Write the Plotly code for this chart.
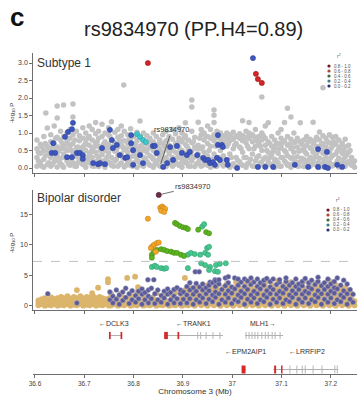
import plotly.graph_objects as go

W, H = 361, 402

# ---------------- data ----------------
panel_label = "c"
title_text = "rs9834970 (PP.H4=0.89)"
lead_snp = "rs9834970"
lead_pos = 36.851
lead_sub = 0.12
lead_bd = 18.2
ld_bins = ["0.8 - 1.0", "0.6 - 0.8", "0.4 - 0.6", "0.2 - 0.4", "0.0 - 0.2"]
ld_legend_colors = ["#6a1a22", "#b0452c", "#3f6b35", "#3a8080", "#2c2f78"]
x_ticks = [36.6, 36.7, 36.8, 36.9, 37.0, 37.1, 37.2]
x_tick_labels = ["36.6", "36.7", "36.8", "36.9", "37", "37.1", "37.2"]
sub_ticks = [0, 0.5, 1.0, 1.5, 2.0, 2.5, 3.0]
bd_ticks = [0, 5, 10, 15]
gw_threshold = 7.3

# Subtype 1 panel: gray (no LD) cloud, columns of (position, [-log10 P ...])
sub_gray_cols = [
    (36.604, [0.05, 0.3, 0.55, 0.8]), (36.611, [0.15, 0.42, 0.68]),
    (36.618, [0.02, 0.25, 0.5, 0.9]), (36.622, [1.57]),
    (36.625, [0.1, 0.38, 0.62, 1.14]), (36.632, [0.05, 0.3, 0.75, 0.95]),
    (36.639, [0.18, 0.48, 0.7, 1.2]), (36.645, [0.03, 0.35, 0.6, 0.88, 1.43, 1.77]),
    (36.652, [0.12, 0.28, 0.55, 0.8, 1.05]), (36.658, [0.02, 0.4, 0.65, 0.9, 1.8]),
    (36.665, [0.2, 0.5, 0.75, 1.0]), (36.671, [0.08, 0.3, 0.62, 0.85, 1.1]),
    (36.677, [0.15, 0.45, 0.7, 0.95, 1.46, 1.83]), (36.684, [0.05, 0.32, 0.58, 1.05]),
    (36.690, [0.2, 0.42, 0.78, 0.92]), (36.697, [0.1, 0.35, 0.6, 0.85, 1.15]),
    (36.703, [0.02, 0.25, 0.5, 0.72, 1.0]), (36.710, [0.15, 0.4, 0.65, 0.9, 1.2]),
    (36.716, [0.06, 0.3, 0.55, 0.8, 1.1]), (36.723, [0.18, 0.45, 0.7, 0.98, 1.3]),
    (36.729, [0.04, 0.28, 0.62, 0.85, 1.05]), (36.736, [0.12, 0.38, 0.6, 0.9, 1.25]),
    (36.742, [0.02, 0.22, 0.5, 0.75, 1.0]), (36.749, [0.15, 0.42, 0.68, 0.95, 1.15]),
    (36.755, [0.08, 0.3, 0.55, 0.8, 1.32]), (36.762, [0.2, 0.48, 0.72, 1.02]),
    (36.768, [0.05, 0.35, 0.6, 0.88, 1.1]), (36.775, [0.14, 0.4, 0.65, 0.92, 1.2]),
    (36.780, [2.37]), (36.781, [0.03, 0.28, 0.52, 0.78, 1.05]),
    (36.788, [0.18, 0.45, 0.7, 0.95]), (36.794, [0.07, 0.32, 0.6, 0.85, 1.12]),
    (36.801, [0.15, 0.4, 0.65, 0.9]), (36.807, [0.02, 0.25, 0.55, 0.78, 1.02]),
    (36.813, [1.34]), (36.814, [0.12, 0.38, 0.62, 0.88]),
    (36.820, [0.05, 0.3, 0.5, 0.8, 1.0]), (36.827, [0.18, 0.45, 0.7, 0.92]),
    (36.833, [0.08, 0.35, 0.58, 0.85]), (36.840, [0.02, 0.25, 0.5, 0.75, 1.0]),
    (36.846, [0.15, 0.4, 0.65, 0.9]), (36.853, [0.06, 0.32, 0.55, 0.8]),
    (36.859, [0.2, 0.45, 0.7, 0.95]), (36.866, [0.04, 0.28, 0.52, 0.78, 1.05]),
    (36.872, [0.12, 0.4, 0.65, 0.9]), (36.879, [0.05, 0.3, 0.58, 0.82, 1.1]),
    (36.885, [0.18, 0.45, 0.7, 0.98]), (36.892, [0.08, 0.35, 0.6, 0.85, 1.15]),
    (36.898, [0.02, 0.25, 0.5, 0.75, 1.0]), (36.905, [0.15, 0.42, 0.68, 0.92, 1.29]),
    (36.911, [0.06, 0.3, 0.55, 0.8]), (36.918, [0.2, 0.48, 0.72, 1.05, 1.74, 1.94]),
    (36.924, [0.04, 0.32, 0.6, 0.88]), (36.931, [0.15, 0.4, 0.65, 1.31]),
    (36.937, [0.05, 0.28, 0.55, 0.95, 1.1]), (36.943, [0.18, 0.45, 0.8, 1.0]),
    (36.950, [0.08, 0.35, 0.7, 0.9, 1.2]), (36.956, [0.02, 0.25, 0.62, 0.85, 1.1]),
    (36.963, [0.12, 0.4, 0.78, 0.95, 1.3, 1.51, 1.66]), (36.969, [0.05, 0.3, 0.7, 0.88, 1.05]),
    (36.976, [0.18, 0.5, 0.82, 1.0]), (36.982, [0.06, 0.35, 0.75, 0.92]),
    (36.989, [0.15, 0.62, 0.85, 1.0]), (36.995, [0.02, 0.4, 0.78, 0.95]),
    (37.002, [0.12, 0.55, 0.82, 1.02]), (37.008, [0.05, 0.3, 0.7, 0.9]),
    (37.015, [0.18, 0.6, 0.85, 0.98]), (37.021, [0.08, 0.45, 0.78, 0.92, 1.35]),
    (37.028, [0.02, 0.3, 0.72, 0.88, 1.05]), (37.034, [0.15, 0.55, 0.85, 1.0, 1.3]),
    (37.041, [0.06, 0.4, 0.75, 0.95]), (37.047, [0.2, 0.62, 0.88, 1.1]),
    (37.054, [0.04, 0.35, 0.7, 0.9]), (37.060, [0.12, 0.5, 0.8, 1.0, 2.03]),
    (37.067, [0.05, 0.3, 0.65, 0.85, 1.2]), (37.073, [0.18, 0.45, 0.75, 1.29]),
    (37.080, [0.08, 0.38, 0.62, 0.9]), (37.086, [0.02, 0.25, 0.55, 0.8]),
    (37.093, [0.15, 0.42, 0.7, 1.0]), (37.099, [0.05, 0.3, 0.6, 0.85, 1.1]),
    (37.106, [0.2, 0.5, 0.78, 1.3]), (37.112, [0.08, 0.35, 0.65, 0.9, 1.71]),
    (37.119, [0.02, 0.28, 0.55, 0.82, 1.46]), (37.125, [0.15, 0.45, 0.72, 1.0]),
    (37.132, [0.06, 0.32, 0.6, 0.85]), (37.138, [0.18, 0.5, 0.75, 1.29]),
    (37.145, [0.04, 0.25, 0.55, 0.8]), (37.151, [0.12, 0.4, 0.65, 0.9]),
    (37.158, [0.05, 0.3, 0.58, 0.82]), (37.164, [0.2, 0.45, 0.7, 1.31]),
    (37.171, [0.08, 0.35, 0.62, 0.88]), (37.177, [0.02, 0.28, 0.55, 0.8, 1.03]),
    (37.184, [0.15, 0.42, 0.7, 0.92, 2.29]), (37.190, [0.05, 0.3, 0.6, 0.85]),
    (37.197, [0.18, 0.45, 0.72, 0.95]), (37.203, [0.06, 0.35, 0.62, 0.88]),
    (37.210, [0.12, 0.4, 0.68, 0.9]), (37.216, [0.03, 0.28, 0.55, 0.8]),
    (37.223, [0.15, 0.42, 0.7]), (37.229, [0.05, 0.32, 0.6, 0.82]),
    (37.236, [0.18, 0.45, 0.65]), (37.242, [0.08, 0.3]), (37.248, [0.02, 0.2]),
]
# Subtype 1 panel: extra gray points filling the dense lower cloud
sub_gray_fill_cols = [
    (36.607, [0.2, 0.45]), (36.614, [0.05, 0.6]), (36.621, [0.35, 0.7]), (36.628, [0.15, 0.5]),
    (36.635, [0.1, 0.58]), (36.642, [0.3, 0.85]), (36.648, [0.2, 0.48]), (36.655, [0.08, 0.7]),
    (36.661, [0.3, 0.55]), (36.668, [0.12, 0.68]), (36.674, [0.25, 0.5]), (36.681, [0.05, 0.8]),
    (36.687, [0.15, 0.6]), (36.694, [0.28, 0.52]), (36.700, [0.12, 0.65]), (36.707, [0.3, 0.85]),
    (36.713, [0.18, 0.45]), (36.720, [0.05, 0.6]), (36.726, [0.35, 0.75]), (36.733, [0.2, 0.5]),
    (36.739, [0.1, 0.68]), (36.746, [0.3, 0.58]), (36.752, [0.15, 0.9]), (36.759, [0.05, 0.62]),
    (36.765, [0.25, 0.5]), (36.772, [0.1, 0.78]), (36.778, [0.3, 0.6]), (36.785, [0.08, 0.55]),
    (36.791, [0.2, 0.82]), (36.798, [0.05, 0.5]), (36.804, [0.32, 0.7]), (36.811, [0.18, 0.48]),
    (36.817, [0.08, 0.65]), (36.824, [0.28, 0.55]), (36.830, [0.12, 0.75]), (36.837, [0.3, 0.62]),
    (36.843, [0.1, 0.48]), (36.850, [0.22, 0.68]), (36.856, [0.05, 0.45]), (36.863, [0.3, 0.62]),
    (36.869, [0.15, 0.8]), (36.876, [0.22, 0.5]), (36.882, [0.1, 0.6]), (36.889, [0.3, 0.72]),
    (36.895, [0.12, 0.5]), (36.902, [0.28, 0.85]), (36.908, [0.15, 0.62]), (36.915, [0.05, 0.4]),
    (36.921, [0.3, 0.75]), (36.928, [0.12, 0.55]), (36.934, [0.25, 0.85]), (36.940, [0.08, 0.6]),
    (36.947, [0.3, 0.9]), (36.953, [0.12, 0.5]), (36.960, [0.25, 0.88]), (36.966, [0.05, 0.62]),
    (36.973, [0.3, 0.95]), (36.979, [0.12, 0.6]), (36.986, [0.25, 0.9]), (36.992, [0.1, 0.7]),
    (36.998, [0.3, 0.88]), (37.005, [0.05, 0.65]), (37.011, [0.22, 0.92]), (37.018, [0.1, 0.55]),
    (37.024, [0.3, 0.85]), (37.031, [0.12, 0.62]), (37.037, [0.25, 0.9]), (37.044, [0.05, 0.55]),
    (37.050, [0.3, 0.78]), (37.057, [0.15, 0.62]), (37.063, [0.25, 0.92]), (37.070, [0.08, 0.5]),
    (37.076, [0.3, 0.7]), (37.083, [0.12, 0.48]), (37.089, [0.22, 0.68]), (37.096, [0.05, 0.55]),
    (37.102, [0.3, 0.72]), (37.109, [0.15, 0.45]), (37.115, [0.1, 0.68]), (37.122, [0.3, 0.58]),
    (37.128, [0.18, 0.75]), (37.135, [0.05, 0.48]), (37.141, [0.28, 0.68]), (37.148, [0.12, 0.45]),
    (37.154, [0.22, 0.75]), (37.161, [0.1, 0.55]), (37.167, [0.3, 0.78]), (37.174, [0.15, 0.48]),
    (37.180, [0.08, 0.65]), (37.187, [0.25, 0.52]), (37.193, [0.12, 0.75]), (37.200, [0.3, 0.55]),
    (37.206, [0.1, 0.75]), (37.213, [0.2, 0.48]), (37.219, [0.05, 0.6]), (37.226, [0.25, 0.5]),
    (37.232, [0.12, 0.38]), (37.239, [0.2, 0.5]), (37.245, [0.1]),
]

# Subtype 1 panel: r2 0.0-0.2 (blue)
sub_blue_x = [36.637, 36.634, 36.641, 36.665, 36.675, 36.685, 36.691, 36.697, 36.697,
              36.667, 36.675, 36.677, 36.661, 36.718, 36.728, 36.732, 36.742, 36.736,
              36.752, 36.756, 36.758, 36.766, 36.772, 36.783, 36.787, 36.795, 36.795,
              36.799, 36.799, 36.813, 36.819, 36.839, 36.843, 36.847, 36.860, 36.868,
              36.874, 36.880, 36.888, 36.898, 36.908, 36.914, 36.929, 36.941, 36.945,
              36.951, 36.955, 36.961, 36.965, 36.969, 36.975, 36.971, 36.971, 36.979,
              36.981, 36.989, 36.991, 37.010, 37.052, 37.067, 37.083, 37.127, 37.154,
              37.174, 37.192, 37.174, 37.188, 37.194, 37.213, 37.223, 37.042]
sub_blue_y = [0.71, 0.43, 0.43, 0.31, 0.31, 0.43, 0.43, 0.37, 0.26,
              1.03, 1.11, 1.29, 0.89, 0.14, 0.11, 0.14, 0.11, 0.57,
              1.09, 0.80, 0.57, 0.66, 0.37, 0.29, 0.31, 0.71, 0.94,
              0.51, 0.09, 0.37, 0.14, 0.63, 0.63, 0.43, 0.03, 0.14,
              0.60, 0.23, 0.63, 0.43, 0.37, 0.46, 0.37, 0.29, 0.23,
              0.23, 0.14, 0.17, 0.09, 0.29, 0.23, 0.94, 0.66, 0.66,
              0.60, 0.23, 0.09, 0.00, 0.03, 0.03, 0.03, 0.09, 0.03,
              0.54, 0.46, 0.03, 0.03, 0.00, 0.09, 0.03, 3.14]
# r2 0.2-0.4 (cyan)
sub_cyan_x = [36.807, 36.813, 36.819, 36.825]
sub_cyan_y = [0.97, 0.89, 0.80, 0.74]
# r2 0.8-1.0 (red)
sub_red_x = [36.829, 37.048, 37.052, 37.060]
sub_red_y = [3.00, 2.69, 2.54, 2.43]

# Bipolar disorder panel: tan cloud
bd_tan_cols = [
    (36.607, [0.1, 0.5, 0.9]), (36.614, [0.3, 0.7, 1.1]), (36.620, [0.05, 0.45, 0.85, 1.3]),
    (36.627, [0.2, 0.6, 1.0]), (36.633, [0.1, 0.5, 0.9, 1.4]), (36.640, [0.3, 0.75, 1.15]),
    (36.646, [0.05, 0.45, 0.85, 1.3]), (36.653, [0.2, 0.6, 1.0, 1.5]), (36.659, [0.1, 0.5, 0.9, 1.3]),
    (36.666, [0.3, 0.7, 1.1, 1.6]), (36.672, [0.05, 0.45, 0.85, 1.25]), (36.679, [0.2, 0.6, 1.0, 1.5]),
    (36.685, [0.1, 0.5, 0.9, 1.3, 2.6]), (36.692, [0.3, 0.7, 1.1, 1.6]), (36.698, [0.05, 0.45, 0.85, 1.3]),
    (36.705, [0.2, 0.6, 1.0, 1.5]), (36.711, [0.1, 0.5, 0.9, 1.35]), (36.716, [2.1]),
    (36.718, [0.3, 0.7, 1.1, 1.6]), (36.724, [0.05, 0.45, 0.85, 1.3]), (36.728, [3.0]),
    (36.731, [0.2, 0.6, 1.0, 1.5]), (36.737, [0.1, 0.5, 0.9, 1.3]), (36.744, [0.3, 0.7, 1.1]),
    (36.748, [4.4, 3.9]), (36.750, [0.05, 0.45, 0.85, 1.25]), (36.755, [0.1, 0.6, 1.9]),
    (36.761, [0.3, 0.9]), (36.768, [0.05, 0.5, 1.2]), (36.774, [0.2, 0.8, 2.0]),
    (36.781, [0.1, 0.6, 1.3]), (36.787, [0.3, 0.9, 4.6]), (36.794, [0.05, 0.5, 1.6]),
    (36.800, [0.2, 0.8, 1.5]), (36.803, [4.8]), (36.807, [0.1, 0.6, 2.1]),
    (36.809, [3.1, 2.5]), (36.813, [0.3, 0.9]), (36.820, [0.05, 0.5, 1.2]),
    (36.826, [0.2, 0.8, 1.8]), (36.833, [0.1, 0.6]), (36.839, [0.3, 0.9, 1.4]),
    (36.846, [0.05, 0.5, 2.1]), (36.852, [0.2, 0.8]), (36.859, [0.1, 0.6, 1.3]),
    (36.865, [0.3, 0.9, 2.0]), (36.872, [0.05, 0.5]), (36.878, [0.2, 0.8, 1.5]),
    (36.885, [0.1, 0.6, 2.2]), (36.891, [0.3, 0.9]), (36.898, [0.05, 0.5, 1.4]),
    (36.904, [0.2, 0.8, 1.7, 2.6, 4.6]), (36.911, [0.1, 0.6, 1.5, 2.5]),
    (36.917, [0.3, 1.0, 1.9, 2.9]), (36.924, [0.05, 0.7, 1.6, 2.5]),
    (36.930, [0.4, 1.1, 2.0, 3.0]), (36.937, [0.1, 0.8, 1.7, 2.6]),
    (36.943, [0.3, 1.0, 1.9, 2.8]), (36.950, [0.05, 0.6, 1.5, 2.5, 3.4]),
    (36.956, [0.4, 1.1, 2.0, 2.9]), (36.963, [0.1, 0.8, 1.7, 2.6]),
    (36.969, [0.3, 1.0, 1.9, 2.8, 3.7]), (36.976, [0.05, 0.6, 1.5, 2.4]),
    (36.982, [0.4, 1.1, 2.0, 3.0]), (36.989, [0.1, 0.8, 1.7, 2.6, 3.6]),
    (36.995, [0.3, 1.0, 1.9, 2.9]), (37.002, [0.05, 0.6, 1.5, 2.5]),
    (37.008, [0.4, 1.1, 2.0, 3.0, 3.9]), (37.015, [0.1, 0.8, 1.7, 2.7]),
    (37.021, [0.3, 1.0, 1.9, 2.9]), (37.028, [0.05, 0.7, 1.6, 2.5, 3.5]),
    (37.034, [0.4, 1.2, 2.1, 3.1]), (37.041, [0.1, 0.8, 1.7, 2.6, 4.0]),
    (37.047, [0.3, 1.0, 1.9, 2.9]), (37.054, [0.05, 0.6, 1.5, 2.4, 3.4]),
    (37.060, [0.4, 1.1, 2.0, 3.0]), (37.067, [0.1, 0.8, 1.7, 2.7, 3.8]),
    (37.073, [0.3, 1.0, 1.9, 2.9]), (37.080, [0.05, 0.6, 1.5, 2.5, 3.5]),
    (37.086, [0.4, 1.1, 2.0, 3.0]), (37.093, [0.1, 0.8, 1.7, 2.6, 4.1]),
    (37.099, [0.3, 1.0, 1.9, 2.9]), (37.106, [0.05, 0.6, 1.5, 2.4, 3.4]),
    (37.112, [0.4, 1.1, 2.0, 3.0]), (37.119, [0.1, 0.8, 1.7, 2.7, 3.9]),
    (37.125, [0.3, 1.0, 1.9, 2.9]), (37.132, [0.05, 0.6, 1.5, 2.5, 3.5]),
    (37.138, [0.4, 1.1, 2.0, 3.0]), (37.145, [0.1, 0.8, 1.7, 2.6, 4.0]),
    (37.151, [0.3, 1.0, 1.9, 2.9]), (37.158, [0.05, 0.6, 1.5, 2.4, 3.4]),
    (37.164, [0.4, 1.1, 2.0, 3.0]), (37.171, [0.1, 0.8, 1.7, 2.7, 3.8]),
    (37.177, [0.3, 1.0, 1.9, 2.9]), (37.184, [0.05, 0.6, 1.5, 2.5, 3.5]),
    (37.190, [0.4, 1.1, 2.0, 3.0]), (37.197, [0.1, 0.8, 1.7, 2.6, 4.1]),
    (37.203, [0.3, 1.0, 1.9, 2.9]), (37.210, [0.05, 0.6, 1.5, 2.4, 3.4]),
    (37.216, [0.4, 1.1, 2.0, 3.0]), (37.223, [0.1, 0.8, 1.7, 2.7]),
    (37.229, [0.3, 1.0, 1.9, 2.9]), (37.236, [0.05, 0.6, 1.5, 2.5]),
    (37.242, [0.4, 1.1, 2.0]), (37.248, [0.1, 0.8]),
]

# Bipolar disorder panel: r2 0.0-0.2 (navy)
bd_navy_cols = [
    (36.626, [2.0]), (36.685, [0.5]), (36.829, [4.3]), (36.841, [4.3]),
    (36.925, [5.6]), (36.933, [5.6]), (36.955, [3.9]), (36.965, [4.3]),
    (36.752, [1.0, 2.3]), (36.758, [0.5, 1.6]), (36.765, [1.1, 2.6]), (36.771, [0.3, 1.8]),
    (36.778, [0.9, 2.3]), (36.784, [1.4, 2.9]), (36.791, [0.4, 2.0]), (36.797, [1.0, 2.5]),
    (36.804, [0.6, 1.7]), (36.810, [1.2, 2.4]), (36.817, [0.3, 1.9, 2.8]), (36.823, [1.0, 2.2]),
    (36.830, [0.5, 1.6, 2.6]), (36.836, [1.2, 2.9]), (36.843, [0.4, 2.0]), (36.849, [1.0, 2.6]),
    (36.856, [0.6, 1.7]), (36.862, [1.3, 2.4]), (36.869, [0.3, 1.9, 2.8]), (36.875, [1.0, 2.2]),
    (36.882, [0.5, 1.6, 2.7]), (36.888, [1.2, 3.0]), (36.895, [0.4, 2.0, 2.6]),
    (36.901, [1.1, 2.3]), (36.908, [0.5, 1.8, 3.2]), (36.914, [1.2, 2.6, 3.8]),
    (36.921, [0.3, 1.9, 3.0]), (36.927, [1.0, 2.4, 3.7]), (36.934, [0.6, 1.7, 3.1]),
    (36.940, [1.3, 2.6, 3.6]), (36.947, [0.4, 2.0, 3.0]), (36.953, [1.1, 2.5, 3.4]),
    (36.960, [0.7, 1.8, 3.8]), (36.966, [1.4, 2.3, 3.2, 4.1]), (36.973, [0.3, 2.0, 3.6, 4.3]),
    (36.979, [1.0, 2.7]), (36.986, [0.6, 1.9, 3.3, 4.6]), (36.992, [1.3, 2.5, 3.8, 4.8]),
    (36.999, [0.4, 2.1, 3.1]), (37.005, [1.0, 2.8, 4.6]), (37.012, [0.7, 1.8, 3.4, 4.4]),
    (37.018, [1.4, 2.4, 3.9]), (37.025, [0.3, 2.0, 3.2, 4.4]), (37.031, [1.1, 2.7, 4.1]),
    (37.038, [0.6, 1.8, 3.5, 4.6]), (37.044, [1.3, 2.4, 3.9]), (37.051, [0.4, 2.0, 3.2, 4.4]),
    (37.057, [1.0, 2.8, 3.8]), (37.064, [0.7, 1.8, 3.4, 4.2]), (37.070, [1.4, 2.5, 4.5]),
    (37.077, [0.3, 2.0, 3.1, 4.0]), (37.083, [1.1, 2.7, 4.4]), (37.090, [0.6, 1.9, 3.5]),
    (37.096, [1.3, 2.4, 3.9, 4.3]), (37.103, [0.4, 2.1, 3.2]), (37.109, [1.0, 2.8, 4.0, 4.6]),
    (37.116, [0.7, 1.8, 3.4]), (37.122, [1.4, 2.5, 3.8]), (37.129, [0.3, 2.0, 3.2, 4.4]),
    (37.135, [1.1, 2.7, 3.6]), (37.142, [0.6, 1.9, 3.3, 4.0]), (37.148, [1.3, 2.4, 4.5]),
    (37.155, [0.4, 2.1, 3.1, 3.8]), (37.161, [1.0, 2.8, 4.2]), (37.168, [0.7, 1.8, 3.5]),
    (37.174, [1.4, 2.5, 4.0, 4.7]), (37.181, [0.3, 2.0, 3.3]), (37.187, [1.1, 2.7, 3.8]),
    (37.194, [0.6, 1.9, 3.2, 4.4]), (37.200, [1.3, 2.4, 3.6]), (37.207, [0.4, 2.1, 3.0, 4.0]),
    (37.213, [1.0, 2.8, 4.6]), (37.220, [0.7, 1.8, 3.4]), (37.226, [1.4, 2.5, 4.2]),
    (37.233, [0.3, 2.0, 3.6]), (37.239, [1.1, 2.7]), (37.245, [0.6, 1.9]),
]
# r2 0.2-0.4 (teal green)
bd_teal_x = [36.837, 36.843, 36.847, 36.856, 36.862, 36.866,
             36.910, 36.916, 36.924, 36.935, 36.945, 36.951, 36.949, 36.953,
             36.910, 36.937, 36.945, 36.955, 36.967, 36.975, 36.987, 36.953, 36.965, 36.971,
             36.939, 36.943]
bd_teal_y = [6.4, 6.6, 6.4, 6.2, 6.1, 6.2,
             8.4, 8.7, 8.5, 8.4, 8.7, 8.4, 9.5, 9.7,
             6.2, 7.0, 6.7, 6.4, 6.7, 6.9, 7.0, 5.9, 5.7, 5.6,
             13.0, 13.4]
# r2 0.4-0.6 (green)
bd_green_x = [36.884, 36.888, 36.894, 36.900, 36.906, 36.910, 36.931, 36.947, 36.953,
              36.837, 36.841, 36.847, 36.856, 36.862, 36.868, 36.876, 36.882, 36.888,
              36.896, 36.902, 36.837]
bd_green_y = [13.6, 13.4, 13.1, 12.9, 12.8, 12.6, 12.5, 12.1, 11.9,
              8.4, 8.9, 9.2, 9.3, 9.2, 9.0, 8.9, 8.7, 8.7,
              8.4, 8.2, 7.9]
# r2 0.6-0.8 (orange)
bd_orange_x = [36.829, 36.854, 36.858, 36.860, 36.864, 36.856, 36.862,
               36.837, 36.841, 36.847, 36.851, 36.835, 36.845]
bd_orange_y = [14.3, 16.1, 16.3, 16.1, 15.9, 15.6, 15.4,
               9.7, 10.0, 10.3, 10.4, 9.5, 8.9]

# Gene track
gene_names = ["←DCLK3", "←TRANK1", "MLH1→", "←EPM2AIP1", "←LRRFIP2"]
gene_start = [36.750, 36.862, 37.026, 37.019, 37.083]
gene_end = [36.777, 36.981, 37.103, 37.028, 37.215]
gene_row = [1, 1, 1, 2, 2]
gene_label_x = [36.760, 36.922, 37.063, 37.026, 37.151]
exon_gene = [0, 0, 1, 1, 1, 1, 1, 1, 1,
             2, 2, 2, 2, 2, 2, 2, 2, 2, 2, 2,
             3, 4, 4, 4, 4, 4, 4, 4, 4, 4, 4]
exon_start = [36.750, 36.7735, 36.862, 36.889, 36.929, 36.935, 36.946, 36.960, 36.974,
              37.027, 37.033, 37.039, 37.045, 37.051, 37.059, 37.066, 37.072, 37.080, 37.086, 37.096,
              37.019, 37.085, 37.099, 37.116, 37.130, 37.141, 37.147, 37.163, 37.181, 37.207, 37.212]
exon_end = [36.7535, 36.777, 36.8695, 36.8925, 36.931, 36.937, 36.948, 36.962, 36.976,
            37.029, 37.035, 37.041, 37.047, 37.053, 37.061, 37.068, 37.074, 37.082, 37.088, 37.098,
            37.027, 37.089, 37.102, 37.118, 37.132, 37.143, 37.149, 37.165, 37.183, 37.209, 37.214]
exon_hl = [1, 1, 1, 1, 0, 0, 0, 0, 0,
           0, 0, 0, 0, 0, 0, 0, 0, 0, 0, 0,
           1, 1, 1, 0, 0, 0, 0, 0, 0, 0, 0]


def expand(cols):
    xs, ys = [], []
    for x, yl in cols:
        for y in yl:
            xs.append(x)
            ys.append(y)
    return xs, ys


# ---------------- styles ----------------
FONT = "Liberation Sans, Arial, sans-serif"
C_AX = "#4a4a4a"
C_TXT = "#333333"
C_GRAY = "#c2c2c2"
C_BLUE = "#3d56c2"
C_CYAN = "#3fc6cc"
C_RED = "#d42424"
C_TAN = "#dcb56c"
C_NAVY = "#5a5b98"
C_TEAL = "#46c58f"
C_GREEN = "#5cb21f"
C_ORANGE = "#f2a528"
C_LEAD = "#6e2a4a"
C_EXON_HL = "#d62828"
C_EXON = "#b5b5b5"


def px_x(p):
    return p / W


def px_y(p):
    return 1 - p / H


XDOM = [px_x(33), px_x(357)]
XR = [36.596, 37.253]

fig = go.Figure()


def pts(x, y, color, size=5.5, line=None, xa="x", ya="y"):
    fig.add_trace(go.Scatter(
        x=x, y=y, mode="markers", xaxis=xa, yaxis=ya, hoverinfo="skip",
        marker=dict(color=color, size=size,
                    line=dict(width=0.5 if line else 0, color=line or color)),
        showlegend=False, cliponaxis=False))


gx, gy = expand(sub_gray_cols)
fx, fy = expand(sub_gray_fill_cols)
pts(gx + fx, gy + fy, C_GRAY, 5.5)
pts(sub_blue_x, sub_blue_y, C_BLUE, 5.2, "#2b3c8a")
pts(sub_cyan_x, sub_cyan_y, C_CYAN, 5.2, "#2a9aa0")
pts(sub_red_x, sub_red_y, C_RED, 5.2, "#8a1010")

tx, ty = expand(bd_tan_cols)
pts(tx, ty, C_TAN, 5.8, None, "x2", "y2")
nx, ny = expand(bd_navy_cols)
pts(nx, ny, C_NAVY, 5.0, "#a9a9c4", "x2", "y2")
pts(bd_teal_x, bd_teal_y, C_TEAL, 5.2, "#2f9a6c", "x2", "y2")
pts(bd_green_x, bd_green_y, C_GREEN, 5.2, "#3f8a10", "x2", "y2")
pts(bd_orange_x, bd_orange_y, C_ORANGE, 5.2, "#c07a10", "x2", "y2")
pts([lead_pos], [lead_bd], C_LEAD, 5.2, "#3a1020", "x2", "y2")

# gene track: intron lines
ROW_Y = {1: 38.5, 2: 4.5}
LABEL_Y = {1: 51, 2: 23}
lx, ly = [], []
for s, e, r in zip(gene_start, gene_end, gene_row):
    lx += [s, e, None]
    ly += [ROW_Y[r], ROW_Y[r], None]
fig.add_trace(go.Scatter(x=lx, y=ly, mode="lines", xaxis="x3", yaxis="y3",
                         line=dict(color="#9a9a9a", width=0.8), hoverinfo="skip",
                         showlegend=False))

shapes = []
for g, s, e, hl in zip(exon_gene, exon_start, exon_end, exon_hl):
    r = gene_row[g]
    half = 4.0 if r == 2 else 3.6
    shapes.append(dict(type="rect", xref="x3", yref="y3", x0=s, x1=e,
                       y0=ROW_Y[r] - half, y1=ROW_Y[r] + half,
                       fillcolor=C_EXON_HL if hl else C_EXON, line=dict(width=0)))

# genome-wide significance line
shapes.append(dict(type="line", xref="x2 domain", yref="y2", x0=0, x1=1,
                   y0=gw_threshold, y1=gw_threshold,
                   line=dict(color="#b0b0b0", width=0.8, dash="dash")))


def note(x, y, text, size, color=C_TXT, xanchor="center", **kw):
    d = dict(x=x, y=y, xref="paper", yref="paper", text=text, showarrow=False,
             xanchor=xanchor, yanchor="middle",
             font=dict(size=size, color=color, family=FONT))
    d.update(kw)
    return d


annotations = []
for name, lxp, r in zip(gene_names, gene_label_x, gene_row):
    annotations.append(dict(x=lxp, y=LABEL_Y[r], xref="x3", yref="y3", text=name,
                            xanchor="center", yanchor="middle",
                            showarrow=False, font=dict(size=7, color=C_TXT, family=FONT)))

annotations += [
    note(px_x(16.5), px_y(17), "<b>" + panel_label + "</b>", 26, "#111"),
    note(px_x(193), px_y(29), title_text, 20, "#222"),
    note(px_x(35), px_y(63), "Subtype 1", 12, xanchor="left"),
    note(px_x(35), px_y(198), "Bipolar disorder", 12, xanchor="left"),
    note(px_x(12), px_y(113), "-log<sub>10</sub> P", 6, textangle=-90),
    note(px_x(12), px_y(243), "-log<sub>10</sub> P", 6, textangle=-90),
    dict(x=lead_pos + 0.004, y=lead_sub, xref="x", yref="y", text=lead_snp,
         ax=11, ay=-34, showarrow=True, arrowhead=0, arrowwidth=0.7, arrowcolor="#333",
         font=dict(size=7.5, color=C_TXT, family=FONT)),
    dict(x=lead_pos, y=lead_bd, xref="x2", yref="y2", text=lead_snp,
         ax=34, ay=-8, showarrow=True, arrowhead=0, arrowwidth=0.7, arrowcolor="#333",
         standoff=3, font=dict(size=7.5, color=C_TXT, family=FONT)),
]

# small r2 legends
for top, mx in [(56, 329), (200, 328)]:
    annotations.append(note(px_x(mx + 10), px_y(top), "r<sup>2</sup>", 5, "#555"))
    for i, (lab, col) in enumerate(zip(ld_bins, ld_legend_colors)):
        yy = top + 10 + i * 5
        shapes.append(dict(type="circle", xref="paper", yref="paper",
                           x0=px_x(mx - 1.6), x1=px_x(mx + 1.6),
                           y0=px_y(yy + 1.6), y1=px_y(yy - 1.6),
                           fillcolor=col, line=dict(width=0)))
        annotations.append(note(px_x(mx + 3), px_y(yy), lab, 4.5, "#555", xanchor="left"))

axis_common = dict(showline=True, linecolor=C_AX, linewidth=0.8, ticks="outside",
                   ticklen=3, tickwidth=0.8, tickcolor=C_AX, showgrid=False,
                   zeroline=False, automargin=False)

fig.update_layout(
    width=W, height=H, margin=dict(l=0, r=0, t=0, b=0),
    paper_bgcolor="white", plot_bgcolor="white",
    font=dict(family=FONT, color=C_TXT),
    xaxis=dict(domain=XDOM, range=XR, anchor="y", tickvals=x_ticks,
               showticklabels=False, **axis_common),
    yaxis=dict(domain=[px_y(173), px_y(53)], range=[-0.143, 3.286], anchor="x",
               tickvals=sub_ticks, tickformat=".1f",
               tickfont=dict(size=7, color="#444"), **axis_common),
    xaxis2=dict(domain=XDOM, range=XR, anchor="y2", tickvals=x_ticks,
                showticklabels=False, **axis_common),
    yaxis2=dict(domain=[px_y(310), px_y(190)], range=[-0.66, 19.0], anchor="x2",
                tickvals=bd_ticks, tickfont=dict(size=7, color="#444"), **axis_common),
    xaxis3=dict(domain=XDOM, range=XR, anchor="y3", tickvals=x_ticks,
                ticktext=x_tick_labels, tickfont=dict(size=6.5, color="#444"),
                title=dict(text="Chromosome 3 (Mb)", font=dict(size=8, color=C_TXT),
                           standoff=2), **axis_common),
    yaxis3=dict(domain=[px_y(374), px_y(318)], range=[0, 56], anchor="x3",
                visible=False, fixedrange=True),
    shapes=shapes, annotations=annotations,
)

fig.write_html("out.html", config={"displayModeBar": False, "staticPlot": True},
               post_script="document.body.style.margin='0';")
